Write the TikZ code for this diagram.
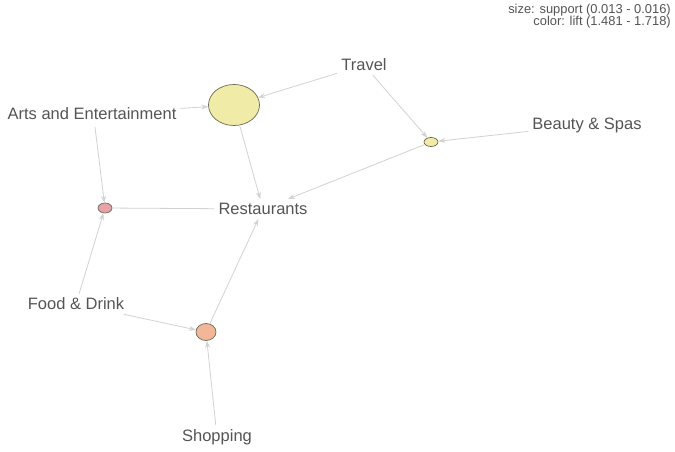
\documentclass[tikz,border=0pt]{standalone}
\usepackage{fontspec}
\setmainfont{Liberation Sans}
\usetikzlibrary{shapes.geometric,arrows.meta}
\definecolor{edgec}{HTML}{D2D2D2}
\definecolor{labc}{HTML}{555555}
\definecolor{ringc}{HTML}{6A6A50}
\definecolor{yel}{HTML}{F1EBA8}
\definecolor{pnk}{HTML}{E8A2AA}
\definecolor{org}{HTML}{F2B698}
\begin{document}
\begin{tikzpicture}[x=1pt,y=-1pt,
  lbl/.style={font=\fontsize{16.5}{18}\selectfont, text=labc, inner sep=4pt},
  leg/.style={font=\fontsize{12.9}{14}\selectfont, text=labc, inner sep=0pt, anchor=east},
  rule/.style={ellipse, draw=ringc, line width=0.7pt, inner sep=0pt},
  edge/.style={draw=edgec, line width=0.8pt, -{Stealth[length=7pt,width=5pt]}},
  plain/.style={draw=edgec, line width=0.8pt}]
\useasboundingbox[fill=white] (0,0) rectangle (675,452);
% legend
\node[leg] (leg1) at (671,10) {size: support (0.013 - 0.016)};
\node[leg] (leg2) at (671,22) {color: lift (1.481 - 1.718)};
% items
\node[lbl] (travel) at (364,65) {Travel};
\node[lbl] (arts) at (92,114) {Arts and Entertainment};
\node[lbl] (beauty) at (587,125) {Beauty \& Spas};
\node[lbl] (rest) at (263,209) {Restaurants};
\node[lbl] (food) at (76,304) {Food \& Drink};
\node[lbl] (shop) at (217,437) {Shopping};
\coordinate (artsS) at (95,127);
% rules
\node[rule, fill=yel, minimum width=51pt, minimum height=41pt] (r1) at (234,105) {};
\node[rule, fill=yel, minimum width=14pt, minimum height=9pt] (r2) at (431,142) {};
\node[rule, fill=pnk, minimum width=14pt, minimum height=10pt] (r3) at (105,208) {};
\node[rule, fill=org, minimum width=20pt, minimum height=17pt] (r4) at (206,332) {};
% edges
\draw[edge] (travel) -- (r1);
\draw[edge] (arts) -- (r1);
\draw[edge] (r1) -- (rest);
\draw[edge] (travel) -- (r2);
\draw[edge] (beauty) -- (r2);
\draw[edge] (r2) -- (rest);
\draw[edge] (artsS) -- (r3);
\draw[edge] (food) -- (r3);
\draw[plain] (r3) -- (rest);
\draw[edge] (food) -- (r4);
\draw[edge] (shop) -- (r4);
\draw[edge] (r4) -- (rest);
\end{tikzpicture}
\end{document}
